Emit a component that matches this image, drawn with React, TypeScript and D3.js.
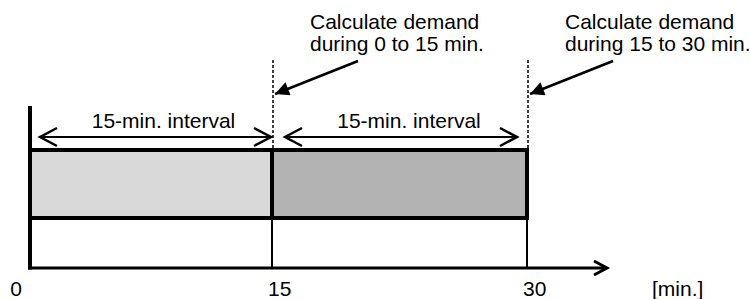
import React from 'react';
import * as d3 from 'd3';

// Time boundaries (minutes) and the interval blocks
const ticks: number[] = [0, 15, 30];
const tickLabels: string[] = ['0', '15', '30'];
const intervals: { start: number; end: number; fill: string }[] = [
    { start: 0, end: 15, fill: '#d9d9d9' },
    { start: 15, end: 30, fill: '#b3b3b3' }
];
const intervalLabels: string[] = ['15-min. interval', '15-min. interval'];
const calcMarks: number[] = [15, 30];
const calcLines: string[][] = [
    ['Calculate demand', 'during 0 to 15 min.'],
    ['Calculate demand', 'during 15 to 30 min.']
];
const unitLabel = '[min.]';

const W = 750;
const H = 299;
const FONT = '"Liberation Sans", Arial, Helvetica, sans-serif';

export default function App() {
    // the drawing is not evenly spaced, so use a piecewise scale
    const x = d3.scaleLinear().domain([0, 15, 30]).range([30, 272, 527]);
    const y = d3.scaleLinear().domain([0, 1]).range([268, 150]); // 1 = top of blocks
    const blockBottom = 218;
    const axisEnd = x(30) + 80;
    const arrowY = 137;

    const chevron = (tx: number, ty: number, dir: number, len: number, half: number) =>
        `M${tx - dir * len},${ty - half}L${tx},${ty}L${tx - dir * len},${ty + half}`;

    return (
        <svg width={W} height={H} style={{ position: 'absolute', left: 0, top: 0, background: 'white' }}
            fontFamily={FONT}>
            <defs>
                <marker id="head" viewBox="0 0 10 10" refX="10" refY="5" markerWidth="16" markerHeight="14"
                    markerUnits="userSpaceOnUse" orient="auto">
                    <path d="M0,0L10,5L0,10Z" fill="#000" />
                </marker>
            </defs>

            {/* blocks */}
            {intervals.map((d, i) => (
                <rect key={i} x={x(d.start)} y={y(1)} width={x(d.end) - x(d.start)} height={blockBottom - y(1)}
                    fill={d.fill} stroke="#000" strokeWidth={4} />
            ))}

            {/* thin boundary lines below blocks */}
            {ticks.slice(1).map((t) => (
                <line key={t} x1={x(t)} x2={x(t)} y1={blockBottom} y2={y(0)} stroke="#000" strokeWidth={2} />
            ))}

            {/* axes */}
            <line x1={x(0)} x2={x(0)} y1={106} y2={y(0) + 1.5} stroke="#000" strokeWidth={4} />
            <line x1={x(0) - 2} x2={axisEnd - 1} y1={y(0)} y2={y(0)} stroke="#000" strokeWidth={3} />
            <path d={chevron(axisEnd, y(0), 1, 13, 7)} fill="none" stroke="#000" strokeWidth={3} />

            {/* tick labels */}
            {ticks.map((t, i) => (
                <text key={t} x={i === 0 ? x(t) - 8 : x(t) - 4} y={296} fontSize={21}
                    textAnchor={i === 0 ? 'end' : 'start'}>{tickLabels[i]}</text>
            ))}
            <text x={652} y={296} fontSize={21}>{unitLabel}</text>

            {/* interval double arrows */}
            {intervals.map((d, i) => {
                const x1 = x(d.start) + (i === 0 ? 10 : 13);
                const x2 = x(d.end) - (i === 0 ? 1 : 10);
                return (
                    <g key={i}>
                        <line x1={x1} x2={x2} y1={arrowY} y2={arrowY} stroke="#000" strokeWidth={2} />
                        <path d={chevron(x1, arrowY, -1, 17, 9)} fill="none" stroke="#000" strokeWidth={2.5} />
                        <path d={chevron(x2, arrowY, 1, 17, 9)} fill="none" stroke="#000" strokeWidth={2.5} />
                        <text x={(x1 + x2) / 2 + 8} y={128} fontSize={21} textAnchor="middle">{intervalLabels[i]}</text>
                    </g>
                );
            })}

            {/* calculation markers */}
            {calcMarks.map((m, i) => {
                const mx = x(m) + 1;
                return (
                    <g key={m}>
                        <line x1={mx} x2={mx} y1={60} y2={y(1) - 2} stroke="#000" strokeWidth={1.5}
                            strokeDasharray="3,2" />
                        <line x1={mx + 85} y1={61} x2={mx + 2} y2={94} stroke="#000" strokeWidth={2.5}
                            markerEnd="url(#head)" />
                        <text x={mx + 37} fontSize={21}>
                            {calcLines[i].map((l, j) => (
                                <tspan key={j} x={mx + 37} y={29 + j * 22}>{l}</tspan>
                            ))}
                        </text>
                    </g>
                );
            })}
        </svg>
    );
}
